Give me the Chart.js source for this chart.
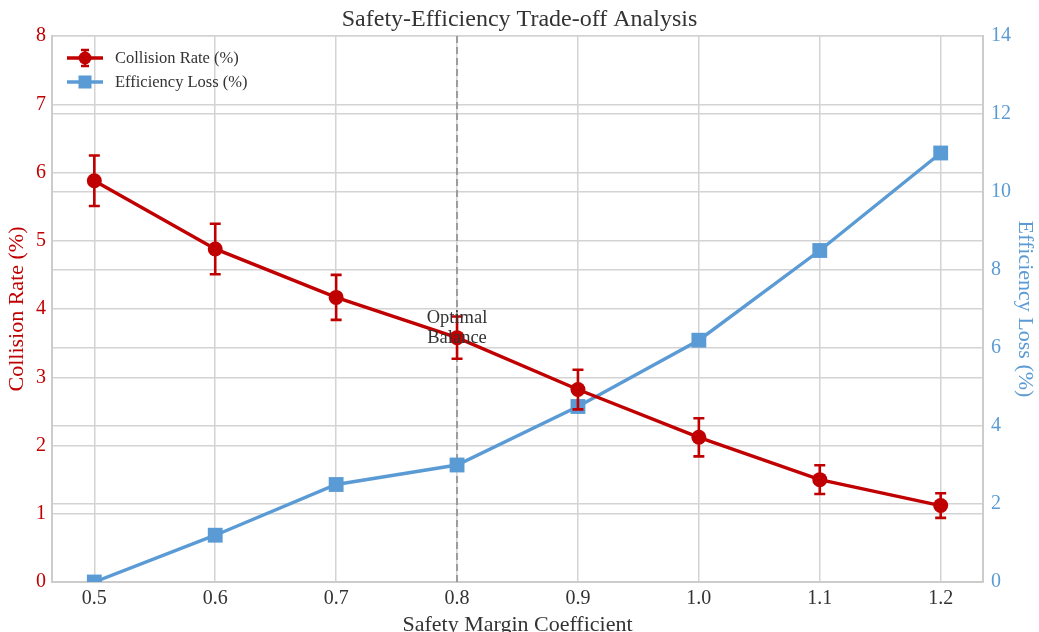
<!DOCTYPE html>
<html><head><meta charset="utf-8">
<script src="https://cdn.jsdelivr.net/npm/chart.js@4.4.1/dist/chart.umd.min.js"></script>
<style>html,body{margin:0;padding:0;background:#fff}#wrap{width:1039px;height:632px}</style>
</head><body><div id="wrap"><canvas id="c" width="1039" height="632"></canvas></div>
<script>
const safetyMargins = [0.5, 0.6, 0.7, 0.8, 0.9, 1.0, 1.1, 1.2];
const collisionRate = [5.88, 4.88, 4.17, 3.58, 2.82, 2.12, 1.50, 1.12];
const collisionErr = [0.37, 0.37, 0.33, 0.31, 0.29, 0.28, 0.21, 0.18];
const efficiencyLoss = [0.0, 1.2, 2.5, 3.0, 4.5, 6.2, 8.5, 11.0];
const leftTicks = [0, 1, 2, 3, 4, 5, 6, 7, 8];
const rightTicks = [0, 2, 4, 6, 8, 10, 12, 14];
const optimalMargin = 0.8;
const optimalLabel = ['Optimal', 'Balance'];

const RED = '#C00000';
const BLUE = '#5B9BD5';
const SERIF = "'Liberation Serif', 'DejaVu Serif', serif";

const errorBarPlugin = {
  id: 'errorBars',
  afterDatasetsDraw(chart) {
    const ctx = chart.ctx, xs = chart.scales.x, ys = chart.scales.y;
    ctx.save();
    ctx.strokeStyle = RED;
    ctx.lineWidth = 2.6;
    safetyMargins.forEach((m, i) => {
      const x = xs.getPixelForValue(m);
      const yt = ys.getPixelForValue(collisionRate[i] + collisionErr[i]);
      const yb = ys.getPixelForValue(collisionRate[i] - collisionErr[i]);
      ctx.beginPath();
      ctx.moveTo(x, yt); ctx.lineTo(x, yb);
      ctx.moveTo(x - 5.5, yt); ctx.lineTo(x + 5.5, yt);
      ctx.moveTo(x - 5.5, yb); ctx.lineTo(x + 5.5, yb);
      ctx.stroke();
    });
    ctx.restore();
    // annotation
    const ox = xs.getPixelForValue(optimalMargin);
    const oy = ys.getPixelForValue(collisionRate[safetyMargins.indexOf(optimalMargin)]);
    ctx.save();
    ctx.fillStyle = '#333';
    ctx.font = '18.5px ' + SERIF;
    ctx.textAlign = 'center';
    ctx.textBaseline = 'middle';
    ctx.fillText(optimalLabel[0], ox, oy - 20);
    ctx.fillText(optimalLabel[1], ox, oy);
    ctx.restore();
    // legend
    const lx = chart.chartArea.left + 15, ly = chart.chartArea.top + 22;
    const items = [
      {text: 'Collision Rate (%)', color: RED, shape: 'circle'},
      {text: 'Efficiency Loss (%)', color: BLUE, shape: 'rect'}
    ];
    ctx.save();
    items.forEach((it, k) => {
      const y = ly + k * 24;
      ctx.strokeStyle = it.color; ctx.fillStyle = it.color;
      ctx.lineWidth = 3.3;
      ctx.beginPath(); ctx.moveTo(lx, y); ctx.lineTo(lx + 36, y); ctx.stroke();
      const cx = lx + 18;
      if (it.shape === 'circle') {
        ctx.lineWidth = 2.4;
        ctx.beginPath(); ctx.moveTo(cx, y - 8); ctx.lineTo(cx, y + 8);
        ctx.moveTo(cx - 4, y - 8); ctx.lineTo(cx + 4, y - 8);
        ctx.moveTo(cx - 4, y + 8); ctx.lineTo(cx + 4, y + 8); ctx.stroke();
        ctx.beginPath(); ctx.arc(cx, y, 6.5, 0, Math.PI * 2); ctx.fill();
      } else {
        ctx.fillRect(cx - 6.5, y - 6.5, 13, 13);
      }
      ctx.fillStyle = '#333';
      ctx.font = '16.5px ' + SERIF;
      ctx.textAlign = 'left'; ctx.textBaseline = 'middle';
      ctx.fillText(it.text, lx + 48, y + 1);
    });
    ctx.restore();
  },
  beforeDatasetsDraw(chart) {
    const ctx = chart.ctx, xs = chart.scales.x, a = chart.chartArea;
    const x = xs.getPixelForValue(optimalMargin);
    ctx.save();
    ctx.strokeStyle = 'rgba(128,128,128,0.7)';
    ctx.lineWidth = 2;
    ctx.setLineDash([7, 4]);
    ctx.beginPath(); ctx.moveTo(x, a.top); ctx.lineTo(x, a.bottom); ctx.stroke();
    ctx.restore();
  }
};

const gridColor = '#d3d3d3';

new Chart(document.getElementById('c'), {
  type: 'line',
  data: {
    datasets: [
      {
        label: 'Collision Rate (%)',
        data: safetyMargins.map((m, i) => ({x: m, y: collisionRate[i]})),
        yAxisID: 'y',
        borderColor: RED, backgroundColor: RED,
        borderWidth: 3.4, pointRadius: 7.5, pointStyle: 'circle',
        pointBorderWidth: 0, tension: 0
      },
      {
        label: 'Efficiency Loss (%)',
        data: safetyMargins.map((m, i) => ({x: m, y: efficiencyLoss[i]})),
        yAxisID: 'y1',
        borderColor: BLUE, backgroundColor: BLUE,
        borderWidth: 3.4, pointRadius: 10.5, pointStyle: 'rect',
        pointBorderWidth: 0, tension: 0
      }
    ]
  },
  options: {
    responsive: false, animation: false, devicePixelRatio: 1,
    layout: {padding: 0},
    plugins: {
      legend: {display: false},
      tooltip: {enabled: false},
      title: {
        display: true, text: 'Safety-Efficiency Trade-off Analysis',
        color: '#333', font: {family: SERIF, size: 24, weight: 'normal'},
        padding: {top: 5, bottom: 2.2}
      }
    },
    scales: {
      x: {
        type: 'linear', min: 0.465, max: 1.235,
        afterBuildTicks: s => { s.ticks = safetyMargins.map(v => ({value: v})); },
        afterFit: s => { s.height = 50; },
        ticks: {callback: v => Number(v).toFixed(1), color: '#333', font: {family: SERIF, size: 20}, padding: 5, maxRotation: 0},
        grid: {color: gridColor, lineWidth: 1.5, drawTicks: false},
        border: {color: '#cccccc', width: 2},
        title: {display: true, text: 'Safety Margin Coefficient', color: '#333', font: {family: SERIF, size: 22}, padding: {top: 0, bottom: -6}}
      },
      y: {
        position: 'left', min: 0, max: 8,
        afterBuildTicks: s => { s.ticks = leftTicks.map(v => ({value: v})); },
        afterFit: s => { s.width = 52; },
        ticks: {color: RED, font: {family: SERIF, size: 20}, padding: 6},
        grid: {color: gridColor, lineWidth: 1.5, drawTicks: false},
        border: {color: '#cccccc', width: 2},
        title: {display: true, text: 'Collision Rate (%)', color: RED, font: {family: SERIF, size: 22}, padding: {top: 4, bottom: 0}}
      },
      y1: {
        position: 'right', min: 0, max: 14,
        afterBuildTicks: s => { s.ticks = rightTicks.map(v => ({value: v})); },
        afterFit: s => { s.width = 56; },
        ticks: {color: BLUE, font: {family: SERIF, size: 20}, padding: 8},
        grid: {color: gridColor, lineWidth: 1.5, drawTicks: false},
        border: {color: '#cccccc', width: 2},
        title: {display: true, text: 'Efficiency Loss (%)', color: BLUE, font: {family: SERIF, size: 22}, padding: {top: 1, bottom: 0}}
      }
    }
  },
  plugins: [errorBarPlugin]
});
</script>
</body></html>
